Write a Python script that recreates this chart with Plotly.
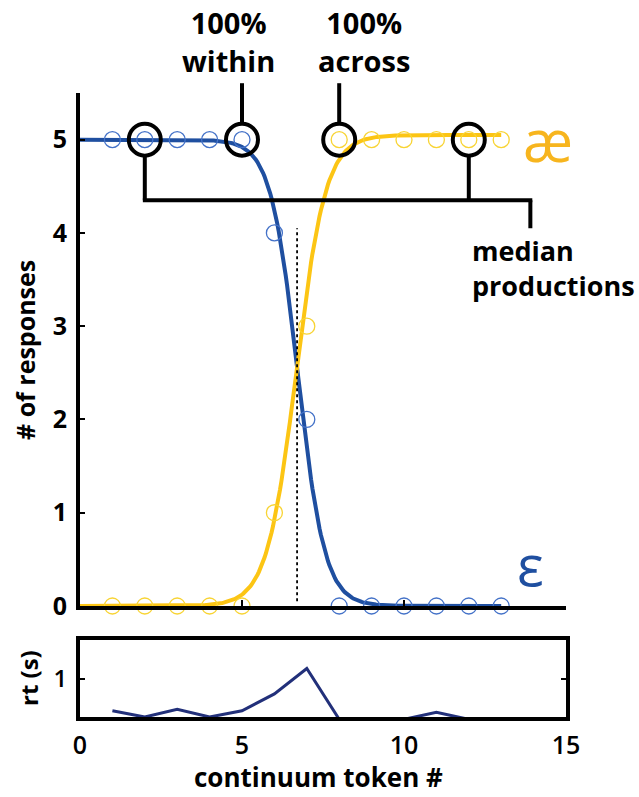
import numpy as np
import plotly.graph_objects as go

# ---- data -------------------------------------------------------------
tokens = [1, 2, 3, 4, 5, 6, 7, 8, 9, 10, 11, 12, 13]
eh_counts = [5, 5, 5, 5, 5, 4, 2, 0, 0, 0, 0, 0, 0]      # "ε" responses
ae_counts = [0, 0, 0, 0, 0, 1, 3, 5, 5, 5, 5, 5, 5]      # "æ" responses
rt_seconds = [0.58, 0.50, 0.60, 0.50, 0.58, 0.80, 1.13, 0.47, 0.47, 0.47, 0.56, 0.47, 0.47]

# logistic fits: (asymptote, midpoint, slope)
eh_fit = (5.0, 6.72, 2.4)
ae_fit = (5.05, 6.68, 2.2)
fit_span = (0, 13)
boundary_x = 6.7

# highlighted tokens
median_tokens = [2, 12]
within_token = 5
across_token = 8

x_ticks = [0, 5, 10, 15]
y_ticks = [0, 1, 2, 3, 4, 5]

# ---- styling ----------------------------------------------------------
W, H = 639, 797
BLUE = "#1f4fa0"
BLUE_PT = "#4472c8"
YELLOW = "#fcc514"
YELLOW_PT = "#f8d434"
AE_COL = "#f7b51e"
RT_COL = "#22307a"
FONT = "Open Sans"

x_dom = [80 / W, 566 / W]
y_dom = [1 - 606 / H, 1 - 93 / H]
y2_dom = [1 - 717 / H, 1 - 640 / H]
y_range = [0, 5.5]


def to_paper_y(v):
    return y_dom[0] + (v - y_range[0]) / (y_range[1] - y_range[0]) * (y_dom[1] - y_dom[0])


fig = go.Figure()

xs = np.linspace(fit_span[0], fit_span[1], 300)
a, m, k = eh_fit
fig.add_trace(go.Scatter(x=xs, y=a / (1 + np.exp(k * (xs - m))), mode="lines",
                         line=dict(color=BLUE, width=4), xaxis="x", yaxis="y"))
a, m, k = ae_fit
fig.add_trace(go.Scatter(x=xs, y=a / (1 + np.exp(-k * (xs - m))), mode="lines",
                         line=dict(color=YELLOW, width=4), xaxis="x", yaxis="y"))

fig.add_trace(go.Scatter(x=tokens, y=eh_counts, mode="markers", cliponaxis=False,
                         marker=dict(symbol="circle-open", size=16, color=BLUE_PT,
                                     line=dict(width=1.3)), xaxis="x", yaxis="y"))
fig.add_trace(go.Scatter(x=tokens, y=ae_counts, mode="markers", cliponaxis=False,
                         marker=dict(symbol="circle-open", size=16, color=YELLOW_PT,
                                     line=dict(width=1.3)), xaxis="x", yaxis="y"))

# big black rings on the highlighted tokens
ring_x = median_tokens[:1] + [within_token, across_token] + median_tokens[1:]
fig.add_trace(go.Scatter(x=ring_x, y=[5] * len(ring_x), mode="markers", cliponaxis=False,
                         marker=dict(symbol="circle-open", size=32, color="black",
                                     line=dict(width=4)), xaxis="x", yaxis="y"))

# reaction time panel
fig.add_trace(go.Scatter(x=tokens, y=rt_seconds, mode="lines",
                         line=dict(color=RT_COL, width=3), xaxis="x2", yaxis="y2"))

shapes = []
# category boundary
shapes.append(dict(type="line", xref="x", yref="y", x0=boundary_x, x1=boundary_x,
                   y0=0.05, y1=4.05, line=dict(color="black", width=1.8, dash="dot")))
# leader lines to the "100%" labels
ring_top = 5.17
label_bottom = 5.605
for t in (within_token, across_token):
    shapes.append(dict(type="line", xref="x", yref="paper", x0=t, x1=t,
                       y0=to_paper_y(ring_top), y1=to_paper_y(label_bottom),
                       line=dict(color="black", width=4)))
# bracket joining the median productions
ring_bottom = 4.83
bracket_y = 4.35
bracket_end = 13.9
bracket_tail = 4.05
for t in median_tokens:
    shapes.append(dict(type="line", xref="x", yref="paper", x0=t, x1=t,
                       y0=to_paper_y(ring_bottom), y1=to_paper_y(bracket_y),
                       line=dict(color="black", width=4)))
shapes.append(dict(type="line", xref="x", yref="paper", x0=median_tokens[0] - 0.06,
                   x1=bracket_end + 0.06, y0=to_paper_y(bracket_y), y1=to_paper_y(bracket_y),
                   line=dict(color="black", width=4)))
shapes.append(dict(type="line", xref="x", yref="paper", x0=bracket_end, x1=bracket_end,
                   y0=to_paper_y(bracket_y), y1=to_paper_y(bracket_tail),
                   line=dict(color="black", width=4)))

bold = dict(family=FONT, color="black", weight="bold")
annotations = [
    dict(text="100%<br>within", x=4.57, y=1 - 42 / H, xref="x", yref="paper",
         showarrow=False, font=dict(size=29, **bold), xanchor="center", yanchor="middle"),
    dict(text="100%<br>across", x=8.77, y=1 - 42 / H, xref="x", yref="paper",
         showarrow=False, font=dict(size=29, **bold), xanchor="center", yanchor="middle"),
    dict(text="median<br>productions", x=470 / W, y=1 - 268 / H, xref="paper", yref="paper",
         showarrow=False, align="left", font=dict(size=27, **bold),
         xanchor="left", yanchor="middle"),
    dict(text="æ", x=14.44, y=5.0, xref="x", yref="y", showarrow=False,
         font=dict(size=58, family=FONT, color=AE_COL), xanchor="center", yanchor="middle"),
    dict(text="ε", x=13.9, y=0.45, xref="x", yref="y", showarrow=False,
         font=dict(size=56, family=FONT, color=BLUE), xanchor="center", yanchor="middle"),
    dict(text="# of responses", x=25 / W, y=1 - 350 / H, xref="paper", yref="paper",
         showarrow=False, textangle=-90, font=dict(size=25, **bold),
         xanchor="center", yanchor="middle"),
    dict(text="rt (s)", x=28 / W, y=1 - 678 / H, xref="paper", yref="paper",
         showarrow=False, textangle=-90, font=dict(size=24, **bold),
         xanchor="center", yanchor="middle"),
    dict(text="continuum token #", x=318 / W, y=1 - 777 / H, xref="paper", yref="paper",
         showarrow=False, font=dict(size=26, **bold), xanchor="center", yanchor="middle"),
]

fig.update_layout(
    width=W, height=H, margin=dict(l=0, r=0, t=0, b=0, autoexpand=False),
    paper_bgcolor="white", plot_bgcolor="white", showlegend=False,
    shapes=shapes, annotations=annotations,
    xaxis=dict(domain=x_dom, range=[0, 15], anchor="y", showline=True, linecolor="black",
               linewidth=4, tickvals=x_ticks, ticks="inside", ticklen=6, tickwidth=2,
               tickcolor="black", showticklabels=False, showgrid=False, zeroline=False,
               automargin=False),
    yaxis=dict(domain=y_dom, range=y_range, anchor="x", showline=True, linecolor="black",
               linewidth=4, tickvals=y_ticks, ticks="inside", ticklen=5, tickwidth=2,
               tickcolor="black", tickfont=dict(size=25, **bold), showgrid=False,
               zeroline=False, ticklabelstandoff=4, automargin=False),
    xaxis2=dict(domain=x_dom, range=[0, 15], anchor="y2", showline=True, mirror=True,
                linecolor="black", linewidth=4, tickvals=x_ticks, ticks="",
                tickfont=dict(size=25, family=FONT, color="black", weight=600),
                showgrid=False, zeroline=False, ticklabelstandoff=3, automargin=False),
    yaxis2=dict(domain=y2_dom, range=[0.5, 1.5], anchor="x2", showline=True, mirror="allticks",
                linecolor="black", linewidth=4, tickvals=[1], ticks="inside", ticklen=5,
                tickwidth=2, tickcolor="black",
                tickfont=dict(size=24, family=FONT, color="black", weight=600),
                showgrid=False, zeroline=False, ticklabelstandoff=4, automargin=False),
)

fig.write_html("out.html")
